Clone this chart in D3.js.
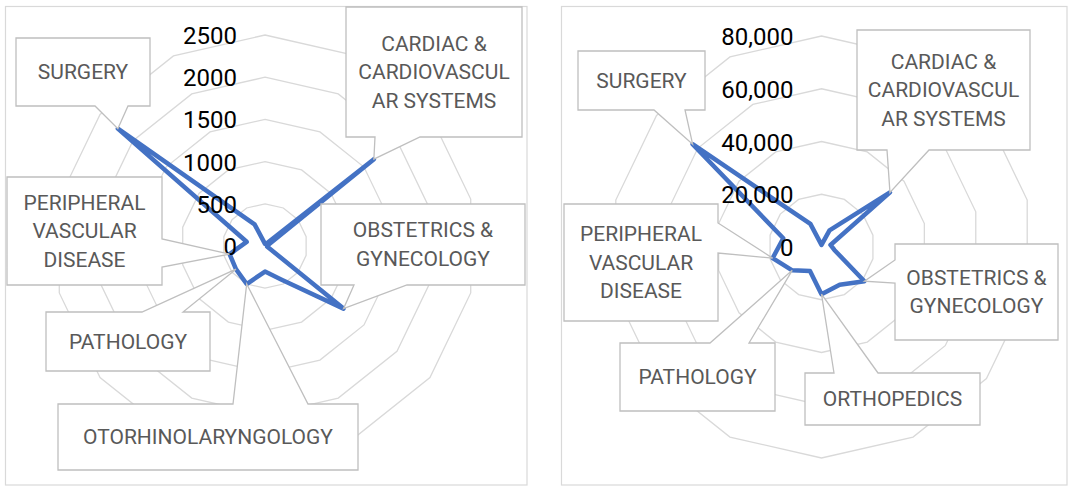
<!DOCTYPE html>
<meta charset="utf-8">
<style>
    body { margin: 0; background: #fff; }
    .panel { fill: #fff; stroke: #d9d9d9; stroke-width: 1.2px; }
    .ring { fill: none; stroke: #d9d9d9; stroke-width: 1.3px; }
    .series { fill: none; stroke: #4472c4; stroke-width: 4.5px; stroke-linejoin: round; }
    .tick { font-family: Roboto, sans-serif; font-size: 24px; fill: #000; }
    .callout { fill: #fff; stroke: #bfbfbf; stroke-width: 1.3px; }
    .callout-text { font-family: Roboto, sans-serif; font-size: 21px; fill: #595959; }
</style>
<svg width="1072" height="486"></svg>
<script src="https://d3js.org/d3.v7.min.js"></script>
<script>

    // 14 categories, clockwise from the top; only the labelled ones can be read
    var categories = [null, null, "CARDIAC & CARDIOVASCULAR SYSTEMS", null, null,
        "OBSTETRICS & GYNECOLOGY", null, "ORTHOPEDICS", "OTORHINOLARYNGOLOGY",
        "PATHOLOGY", "PERIPHERAL VASCULAR DISEASE", null, "SURGERY", null];

    var leftValues = [25, 25, 1650, 30, 25, 1190, 440, 303, 500, 440, 430, 223, 2230, 285];
    var rightValues = [800, 7000, 33200, 3500, 5000, 20800, 15900, 17900, 10060, 14200, 19000, 14860, 62500, 9730];

    var leftTicks = [0, 500, 1000, 1500, 2000, 2500];
    var rightTicks = [0, 20000, 40000, 60000, 80000];

    // how Excel wrapped the label text
    var labelLines = {
        2: ["CARDIAC &", "CARDIOVASCUL", "AR SYSTEMS"],
        5: ["OBSTETRICS &", "GYNECOLOGY"],
        10: ["PERIPHERAL", "VASCULAR", "DISEASE"]
    };

    var svg = d3.select("svg");
    var R = 211;

    var charts = [
        {
            panel: [5.5, 6.5, 521.5, 478.5], cx: 265, cy: 246,
            values: leftValues, ticks: leftTicks, fmt: d3.format("d"),
            callouts: [
                {i: 12, x: 16, y: 38, w: 134, h: 68, side: "bottom", a: 95, b: 128},
                {i: 2, x: 346, y: 7, w: 176, h: 130, side: "bottom", a: 375, b: 420},
                {i: 5, x: 321, y: 204, w: 204, h: 81, side: "bottom", a: 354, b: 407},
                {i: 10, x: 7, y: 177, w: 155, h: 108, side: "right", a: 239, b: 267},
                {i: 9, x: 46, y: 312, w: 164, h: 59, side: "top", a: 142, b: 183},
                {i: 8, x: 58, y: 404, w: 300, h: 66, side: "top", a: 233, b: 308}
            ]
        },
        {
            panel: [561.5, 6.5, 505.5, 478.5], cx: 821.5, cy: 247,
            values: rightValues, ticks: rightTicks, fmt: d3.format(","),
            callouts: [
                {i: 12, x: 578, y: 51, w: 127, h: 59, side: "bottom", a: 654, b: 685},
                {i: 2, x: 857, y: 30, w: 173, h: 120, side: "bottom", a: 887, b: 929},
                {i: 5, x: 895, y: 244, w: 163, h: 96, side: "left", a: 260, b: 283},
                {i: 10, x: 564, y: 204, w: 154, h: 117, side: "right", a: 223, b: 253},
                {i: 9, x: 620, y: 343, w: 155, h: 68, side: "top", a: 710, b: 749},
                {i: 7, x: 805, y: 373, w: 175, h: 52, side: "top", a: 834, b: 878}
            ]
        }
    ];

    var n = categories.length;
    var angle = d3.scaleLinear().domain([0, n]).range([0, 2 * Math.PI]);

    function calloutPath(c, t) {
        var x0 = c.x, y0 = c.y, x1 = c.x + c.w, y1 = c.y + c.h;
        var p = d3.path();
        p.moveTo(x0, y0);
        if (c.side === "top") { p.lineTo(c.a, y0); p.lineTo(t[0], t[1]); p.lineTo(c.b, y0); }
        p.lineTo(x1, y0);
        if (c.side === "right") { p.lineTo(x1, c.a); p.lineTo(t[0], t[1]); p.lineTo(x1, c.b); }
        p.lineTo(x1, y1);
        if (c.side === "bottom") { p.lineTo(c.b, y1); p.lineTo(t[0], t[1]); p.lineTo(c.a, y1); }
        p.lineTo(x0, y1);
        if (c.side === "left") { p.lineTo(x0, c.b); p.lineTo(t[0], t[1]); p.lineTo(x0, c.a); }
        p.closePath();
        return p.toString();
    }

    charts.forEach(function(ch) {
        svg.append("rect").attr("class", "panel")
            .attr("x", ch.panel[0]).attr("y", ch.panel[1])
            .attr("width", ch.panel[2]).attr("height", ch.panel[3]);

        var r = d3.scaleLinear().domain([0, d3.max(ch.ticks)]).range([0, R]);

        var g = svg.append("g").attr("transform", "translate(" + ch.cx + "," + ch.cy + ")");

        var radial = d3.lineRadial()
            .angle(function(d, i) { return angle(i); })
            .curve(d3.curveLinearClosed);

        // grid polygons
        g.selectAll(".ring")
            .data(ch.ticks.filter(function(t) { return t > 0; }))
            .enter().append("path")
            .attr("class", "ring")
            .attr("d", function(t) {
                return radial.radius(function() { return r(t); })(d3.range(n));
            });

        // the series
        g.append("path")
            .datum(ch.values)
            .attr("class", "series")
            .attr("d", radial.radius(function(d) { return r(d); }));

        // value axis labels, left of the top spoke
        g.selectAll(".tick")
            .data(ch.ticks)
            .enter().append("text")
            .attr("class", "tick")
            .attr("x", -28)
            .attr("y", function(t) { return -r(t) + 1; })
            .attr("text-anchor", "end")
            .attr("dominant-baseline", "central")
            .text(ch.fmt);

        // data-label callouts
        ch.callouts.forEach(function(c) {
            var v = ch.values[c.i], a = angle(c.i);
            var tip = [ch.cx + r(v) * Math.sin(a), ch.cy - r(v) * Math.cos(a)];
            svg.append("path").attr("class", "callout").attr("d", calloutPath(c, tip));

            var lines = labelLines[c.i] || [categories[c.i]];
            var lh = 28.5;
            var mid = c.y + c.h / 2;
            svg.append("text")
                .attr("class", "callout-text")
                .attr("text-anchor", "middle")
                .selectAll("tspan")
                .data(lines)
                .enter().append("tspan")
                .attr("x", c.x + c.w / 2)
                .attr("y", function(d, k) { return mid + (k - (lines.length - 1) / 2) * lh; })
                .attr("dominant-baseline", "central")
                .text(function(d) { return d; });
        });
    });

</script>
